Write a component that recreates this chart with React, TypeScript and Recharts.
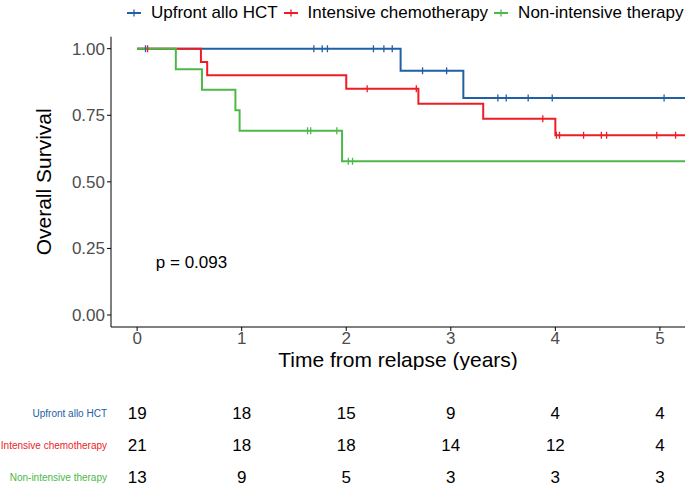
import React from "react";
import {
  ComposedChart,
  Line,
  Scatter,
  XAxis,
  YAxis,
  ReferenceDot,
} from "recharts";

const FONT = "'Liberation Sans', Arial, Helvetica, sans-serif";

const groups = ["Upfront allo HCT", "Intensive chemotherapy", "Non-intensive therapy"];
const colors = ["#2160A4", "#EE1C25", "#4DB848"];

// step curves (time in years, survival)
const hctTimes = [0, 2.52, 3.12, 5.4];
const hctSurv = [1, 0.917, 0.815, 0.815];
const hctCensor = [0.08, 1.69, 1.77, 1.82, 2.26, 2.36, 2.44, 2.73, 2.96, 3.45, 3.53, 3.74, 3.97, 5.04];

const chemoTimes = [0, 0.61, 0.67, 2.0, 2.69, 3.31, 4.0, 5.4];
const chemoSurv = [1, 0.95, 0.9, 0.85, 0.793, 0.737, 0.675, 0.675];
const chemoCensor = [0.1, 2.2, 2.67, 3.88, 4.01, 4.04, 4.27, 4.44, 4.49, 4.97, 5.15];

const nonTimes = [0, 0.37, 0.62, 0.94, 0.98, 1.96, 5.4];
const nonSurv = [1, 0.923, 0.846, 0.769, 0.692, 0.577, 0.577];
const nonCensor = [1.63, 1.66, 1.91, 2.02, 2.06];

// number at risk
const riskTimes = [0, 1, 2, 3, 4, 5];
const hctRisk = [19, 18, 15, 9, 4, 4];
const chemoRisk = [21, 18, 18, 14, 12, 4];
const nonRisk = [13, 9, 5, 3, 3, 3];

const xTicks = [0, 1, 2, 3, 4, 5];
const yTicks = [0, 0.25, 0.5, 0.75, 1];
const pLabel = "p = 0.093";
const pX = 0.52;
const pY = 0.2;

const X_DOMAIN: [number, number] = [-0.25, 5.24];

const survAt = (times: number[], surv: number[], t: number) => {
  let v = surv[0];
  times.forEach((tt, i) => {
    if (tt <= t) v = surv[i];
  });
  return v;
};

const curves = [
  { times: hctTimes, surv: hctSurv, censor: hctCensor },
  { times: chemoTimes, surv: chemoSurv, censor: chemoCensor },
  { times: nonTimes, surv: nonSurv, censor: nonCensor },
].map((c, gi) => ({
  name: groups[gi],
  color: colors[gi],
  line: c.times.map((t, i) => ({ time: t, surv: c.surv[i] })),
  marks: c.censor.map((t) => ({ time: t, surv: survAt(c.times, c.surv, t) })),
}));

const riskRows = [hctRisk, chemoRisk, nonRisk].flatMap((arr, row) =>
  arr.map((n, i) => ({ time: riskTimes[i], row, n }))
);

const censorShape = (color: string) => (props: any) => {
  const { cx, cy } = props;
  if (cx == null || cy == null) return <g />;
  return (
    <line x1={cx} x2={cx} y1={cy - 3.5} y2={cy + 3.5} stroke={color} strokeWidth={1.3} />
  );
};

const riskText = (props: any) => {
  const { cx, cy, payload } = props;
  return (
    <text
      x={cx}
      y={cy}
      textAnchor="middle"
      dominantBaseline="central"
      fontSize={17}
      fill="#000"
      fontFamily={FONT}
    >
      {payload.n}
    </text>
  );
};

const RiskTick = (props: any) => {
  const { x, y, payload } = props;
  return (
    <text
      x={x}
      y={y}
      textAnchor="end"
      dominantBaseline="central"
      fontSize={10}
      fill={colors[payload.value]}
      fontFamily={FONT}
    >
      {groups[payload.value]}
    </text>
  );
};

function LegendTop() {
  return (
    <div
      style={{
        position: "absolute",
        left: 127,
        top: 3,
        display: "flex",
        alignItems: "center",
        fontSize: 17,
        fontFamily: FONT,
        color: "#000",
        whiteSpace: "nowrap",
      }}
    >
      {groups.map((g, i) => (
        <div key={g} style={{ display: "flex", alignItems: "center", marginRight: 6 }}>
          <svg width={14} height={14} style={{ marginRight: 10 }}>
            <line x1={0} x2={14} y1={7} y2={7} stroke={colors[i]} strokeWidth={2} />
            <line x1={7} x2={7} y1={3.5} y2={10.5} stroke={colors[i]} strokeWidth={1.3} />
          </svg>
          <span>{g}</span>
        </div>
      ))}
    </div>
  );
}

export default function App() {
  return (
    <div
      style={{
        position: "absolute",
        left: 0,
        top: 0,
        width: 685,
        height: 488,
        overflow: "hidden",
        background: "#fff",
        fontFamily: FONT,
      }}
    >
      <LegendTop />
      <div style={{ position: "absolute", left: 0, top: 0 }}>
        <ComposedChart
          width={685}
          height={370}
          margin={{ top: 36.7, right: 0, bottom: 2, left: 0 }}
          style={{ fontFamily: FONT }}
        >
          <XAxis
            type="number"
            dataKey="time"
            domain={X_DOMAIN}
            allowDataOverflow
            ticks={xTicks}
            tickSize={4}
            tickMargin={1}
            height={41}
            stroke="#000"
            tick={{ fill: "#4D4D4D", fontSize: 17 }}
            label={{
              value: "Time from relapse (years)",
              position: "insideBottom",
              offset: 1,
              fill: "#000",
              fontSize: 21,
            }}
          />
          <YAxis
            type="number"
            dataKey="surv"
            domain={[-0.045, 1.045]}
            allowDataOverflow
            ticks={yTicks}
            tickFormatter={(v: number) => v.toFixed(2)}
            width={111}
            tickSize={4}
            tickMargin={2}
            stroke="#000"
            tick={{ fill: "#4D4D4D", fontSize: 17 }}
            label={{
              value: "Overall Survival",
              angle: -90,
              position: "insideLeft",
              offset: 44,
              fill: "#000",
              fontSize: 21,
              style: { textAnchor: "middle" },
            }}
          />
          {curves.map((c) => (
            <Line
              key={c.name}
              data={c.line}
              dataKey="surv"
              type="stepAfter"
              stroke={c.color}
              strokeWidth={2}
              dot={false}
              activeDot={false}
              isAnimationActive={false}
            />
          ))}
          {curves.map((c) => (
            <Scatter
              key={c.name + "-c"}
              data={c.marks}
              dataKey="surv"
              shape={censorShape(c.color)}
              isAnimationActive={false}
            />
          ))}
          <ReferenceDot
            x={pX}
            y={pY}
            r={0}
            fill="none"
            stroke="none"
            label={{ value: pLabel, position: "center", fontSize: 17, fill: "#000" }}
          />
        </ComposedChart>
      </div>
      <div style={{ position: "absolute", left: 0, top: 398 }}>
        <ComposedChart
          width={685}
          height={95}
          margin={{ top: 0, right: 0, bottom: 0, left: 0 }}
          data={riskRows}
        >
          <XAxis type="number" dataKey="time" domain={X_DOMAIN} allowDataOverflow hide />
          <YAxis
            type="number"
            dataKey="row"
            domain={[-0.5, 2.5]}
            reversed
            ticks={[0, 1, 2]}
            width={111}
            axisLine={false}
            tickLine={false}
            tickSize={0}
            tickMargin={4}
            tick={<RiskTick />}
          />
          <Scatter data={riskRows} dataKey="row" shape={riskText} isAnimationActive={false} />
        </ComposedChart>
      </div>
    </div>
  );
}
